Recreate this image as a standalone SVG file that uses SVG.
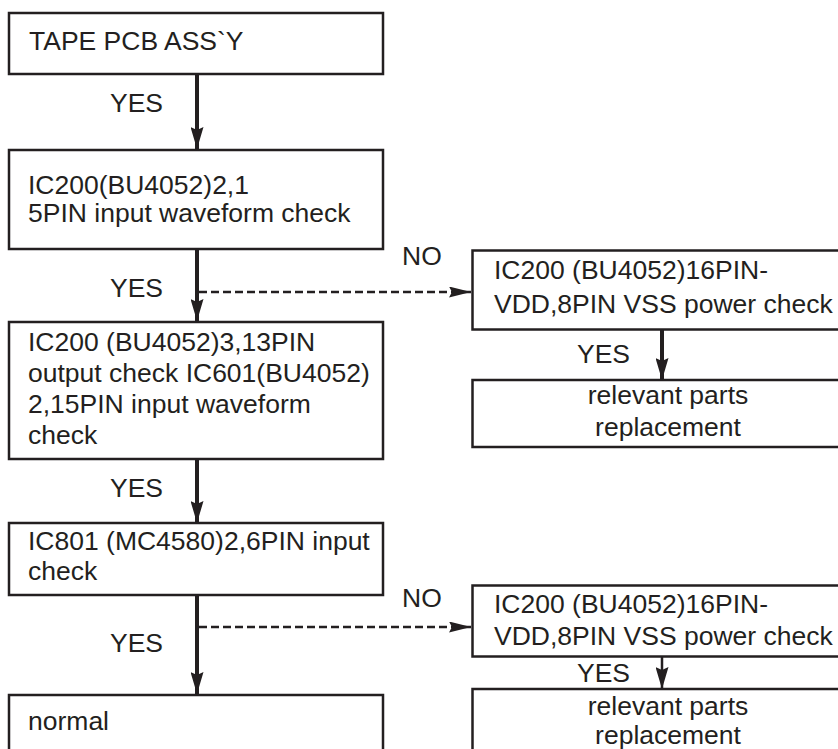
<svg xmlns="http://www.w3.org/2000/svg" width="838" height="749" viewBox="0 0 838 749">
<style>
.box{fill:#fff;stroke:#231f20;stroke-width:2.5}
text{font-family:"Liberation Sans",Arial,sans-serif;font-size:26.5px;fill:#231f20}
.mid{text-anchor:middle}
.solid{stroke:#231f20;stroke-width:4;fill:none}
.thin{stroke:#231f20;stroke-width:2.5;fill:none}
.dash{stroke:#231f20;stroke-width:2.5;stroke-dasharray:8,4;fill:none}
</style>
<defs>
<marker id="ah" markerUnits="userSpaceOnUse" viewBox="0 0 22 13" refX="22" refY="6.5" markerWidth="22" markerHeight="13" orient="auto">
<path d="M0,0 L22,6.5 L0,13 L3,6.5 Z" fill="#231f20"/>
</marker>
<marker id="ahd" markerUnits="userSpaceOnUse" viewBox="0 0 22 11" refX="22" refY="5.5" markerWidth="22" markerHeight="11" orient="auto">
<path d="M0,0 L22,5.5 L0,11 L3,5.5 Z" fill="#231f20"/>
</marker>
</defs>

<g id="connectors">
<line class="solid" x1="197" y1="74" x2="197" y2="149" marker-end="url(#ah)"/>
<line class="solid" x1="197" y1="249" x2="197" y2="321" marker-end="url(#ah)"/>
<line class="solid" x1="197" y1="459" x2="197" y2="523" marker-end="url(#ah)"/>
<line class="solid" x1="197" y1="595" x2="197" y2="694" marker-end="url(#ah)"/>
<line class="dash" x1="199" y1="292" x2="471" y2="292" marker-end="url(#ahd)"/>
<line class="dash" x1="199" y1="627" x2="471" y2="627" marker-end="url(#ahd)"/>
<line class="solid" x1="662" y1="330" x2="662" y2="380" marker-end="url(#ah)"/>
<line class="thin" x1="662" y1="656" x2="662" y2="689" marker-end="url(#ah)"/>
<text x="110" y="112">YES</text>
<text x="110" y="297">YES</text>
<text x="110" y="497">YES</text>
<text x="110" y="652">YES</text>
<text x="402" y="265">NO</text>
<text x="402" y="607">NO</text>
<text x="577" y="363">YES</text>
<text x="577" y="682">YES</text>
</g>

<g id="n1">
<rect class="box" x="9" y="13" width="374" height="61"/>
<text x="29" y="50">TAPE PCB ASS`Y</text>
</g>
<g id="n2">
<rect class="box" x="9" y="150" width="374" height="99"/>
<text x="28" y="194">IC200(BU4052)2,1</text>
<text x="28" y="222">5PIN input waveform check</text>
</g>
<g id="n3">
<rect class="box" x="9" y="322" width="374" height="137"/>
<text x="28" y="351">IC200 (BU4052)3,13PIN</text>
<text x="28" y="382">output check IC601(BU4052)</text>
<text x="28" y="413">2,15PIN input waveform</text>
<text x="28" y="444">check</text>
</g>
<g id="n4">
<rect class="box" x="9" y="523" width="374" height="72"/>
<text x="28" y="550">IC801 (MC4580)2,6PIN input</text>
<text x="28" y="580">check</text>
</g>
<g id="n5">
<rect class="box" x="9" y="695" width="374" height="70"/>
<text x="28" y="730">normal</text>
</g>
<g id="n6">
<rect class="box" x="472.5" y="250.5" width="380" height="79"/>
<text x="494" y="279">IC200 (BU4052)16PIN-</text>
<text x="494" y="313">VDD,8PIN VSS power check</text>
</g>
<g id="n7">
<rect class="box" x="472.5" y="380" width="380" height="67"/>
<text class="mid" x="668" y="404">relevant parts</text>
<text class="mid" x="668" y="436">replacement</text>
</g>
<g id="n8">
<rect class="box" x="472.5" y="585.5" width="380" height="71"/>
<text x="494" y="613">IC200 (BU4052)16PIN-</text>
<text x="494" y="645">VDD,8PIN VSS power check</text>
</g>
<g id="n9">
<rect class="box" x="472.5" y="689" width="380" height="80"/>
<text class="mid" x="668" y="715">relevant parts</text>
<text class="mid" x="668" y="744">replacement</text>
</g>
</svg>
